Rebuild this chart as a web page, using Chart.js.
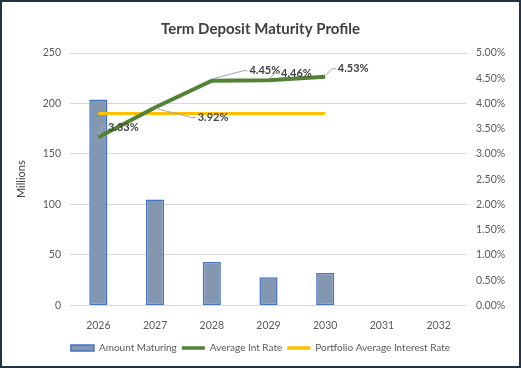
<!DOCTYPE html>
<html>
<head>
<meta charset="utf-8">
<script src="https://cdn.jsdelivr.net/npm/chart.js@4/dist/chart.umd.min.js"></script>
<style>
  html, body { margin: 0; padding: 0; background: #ffffff; }
  #wrap { width: 521px; height: 368px; position: relative; }
</style>
</head>
<body>
<div id="wrap"><canvas id="c" width="521" height="368"></canvas></div>
<script>
// ---- data ----
const categories = ['2026', '2027', '2028', '2029', '2030', '2031', '2032'];
const amountMaturing = [204, 105, 43, 28, 32, null, null];          // millions
const averageIntRate = [3.33, 3.92, 4.45, 4.46, 4.53, null, null];  // %
const portfolioAverageRate = [3.80, 3.80, 3.80, 3.80, 3.80, null, null]; // %
const seriesNames = ['Amount Maturing', 'Average Int Rate', 'Portfolio Average Interest Rate'];
const chartTitle = 'Term Deposit Maturity Profile';
const leftAxisTitle = 'Millions';

// ---- styling ----
const FONT = 'Lato, "Open Sans", sans-serif';
const labelOffsets = [[25, -10], [58, 10], [53, -10], [28, -7], [28, -8]];

const borderPlugin = {
  id: 'outerBorder',
  beforeDraw(chart) {
    const ctx = chart.ctx;
    ctx.save();
    ctx.fillStyle = '#ffffff';
    ctx.fillRect(0, 0, chart.width, chart.height);
    ctx.restore();
  },
  afterDraw(chart) {
    const ctx = chart.ctx;
    ctx.save();
    ctx.strokeStyle = '#243447';
    ctx.lineWidth = 2;
    ctx.strokeRect(1, 1, chart.width - 2, chart.height - 2);
    ctx.restore();
  }
};

const lineLabelPlugin = {
  id: 'lineLabels',
  afterDatasetsDraw(chart) {
    const meta = chart.getDatasetMeta(1);
    const ctx = chart.ctx;
    ctx.save();
    ctx.font = 'bold 11px ' + FONT;
    ctx.textAlign = 'center';
    ctx.textBaseline = 'middle';
    meta.data.forEach((pt, i) => {
      const v = averageIntRate[i];
      if (v === null || v === undefined) return;
      const off = labelOffsets[i] || [20, -10];
      const txt = v.toFixed(2) + '%';
      const cx = pt.x + off[0];
      const cy = pt.y + off[1];
      const w = ctx.measureText(txt).width;
      const left = cx - w / 2 - 2;
      ctx.strokeStyle = '#a6a6a6';
      ctx.lineWidth = 1;
      ctx.beginPath();
      ctx.moveTo(pt.x + 1, pt.y + (off[1] < 0 ? -2 : 1));
      ctx.lineTo(left - 4, cy);
      ctx.lineTo(left, cy);
      ctx.stroke();
      ctx.fillStyle = '#404040';
      ctx.fillText(txt, cx, cy);
    });
    ctx.restore();
  }
};

new Chart(document.getElementById('c'), {
  data: {
    labels: categories,
    datasets: [
      {
        type: 'bar',
        label: seriesNames[0],
        data: amountMaturing,
        yAxisID: 'y',
        backgroundColor: '#8497B0',
        borderColor: '#4472C4',
        borderWidth: 1.5,
        borderSkipped: false,
        barPercentage: 0.32,
        categoryPercentage: 1,
        order: 3
      },
      {
        type: 'line',
        label: seriesNames[1],
        data: averageIntRate,
        yAxisID: 'y1',
        borderColor: '#548235',
        backgroundColor: '#548235',
        borderWidth: 4,
        pointRadius: 0,
        tension: 0,
        order: 1
      },
      {
        type: 'line',
        label: seriesNames[2],
        data: portfolioAverageRate,
        yAxisID: 'y1',
        borderColor: '#FFC000',
        backgroundColor: '#FFC000',
        borderWidth: 3,
        pointRadius: 0,
        tension: 0,
        order: 2
      }
    ]
  },
  options: {
    responsive: false,
    animation: false,
    devicePixelRatio: 1,
    layout: { padding: { left: 0, right: 0, top: 0, bottom: 5 } },
    plugins: {
      title: {
        display: true,
        text: chartTitle,
        color: '#404040',
        font: { family: FONT, size: 15, weight: 'bold' },
        padding: { top: 20, bottom: 15 }
      },
      legend: {
        position: 'bottom',
        labels: {
          color: '#595959',
          font: { family: FONT, size: 10 },
          usePointStyle: true,
          pointStyleWidth: 23,
          boxHeight: 6,
          padding: 5,
          sort: (a, b) => a.datasetIndex - b.datasetIndex,
          generateLabels(chart) {
            const items = Chart.defaults.plugins.legend.labels.generateLabels(chart);
            items.forEach(it => {
              if (it.datasetIndex === 0) {
                it.pointStyle = 'rect';
                it.lineWidth = 1.5;
                it.fillStyle = '#8497B0';
                it.strokeStyle = '#4472C4';
              } else {
                it.pointStyle = 'line';
                it.lineWidth = 3.5;
              }
            });
            return items;
          }
        }
      },
      tooltip: { enabled: false }
    },
    scales: {
      x: {
        grid: { display: false },
        border: { display: false },
        ticks: { color: '#595959', font: { family: FONT, size: 10.5 }, padding: 6 }
      },
      y: {
        position: 'left',
        min: 0, max: 250,
        ticks: { stepSize: 50, color: '#595959', font: { family: FONT, size: 10.5 }, padding: 9 },
        grid: { color: '#d9d9d9', drawTicks: false, lineWidth: 1 },
        border: { display: false },
        title: { display: true, text: leftAxisTitle, color: '#404040', font: { family: FONT, size: 11 }, padding: { top: 15, bottom: 0 } },
        afterFit(scale) { scale.width = 70; }
      },
      y1: {
        position: 'right',
        min: 0, max: 5,
        ticks: { stepSize: 0.5, color: '#595959', font: { family: FONT, size: 10.5 }, padding: 9,
                 callback: v => Number(v).toFixed(2) + '%' },
        grid: { display: false, drawTicks: false },
        border: { display: false },
        afterFit(scale) { scale.width = 54; }
      }
    }
  },
  plugins: [borderPlugin, lineLabelPlugin]
});
</script>
</body>
</html>
